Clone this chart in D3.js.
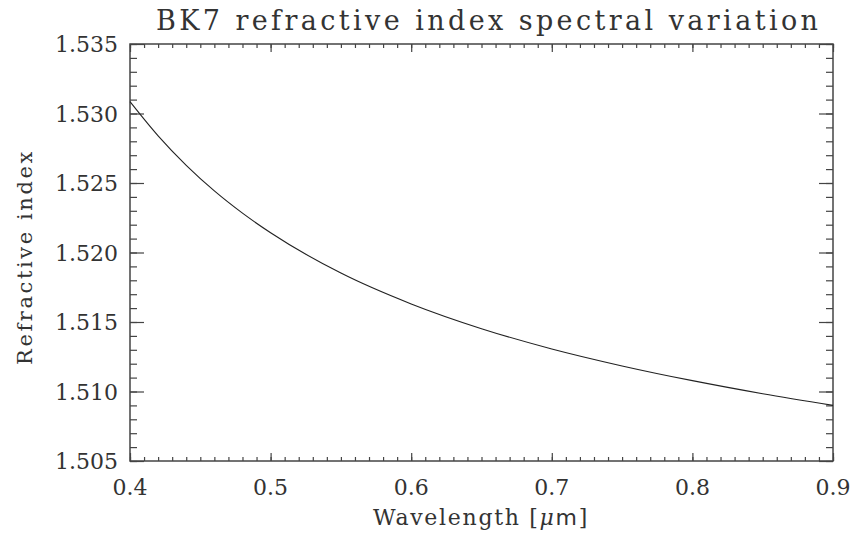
<!DOCTYPE html>
<html>
<head>
<meta charset="utf-8">
<script src="https://cdn.jsdelivr.net/npm/d3@7"></script>
<style>
  html, body { margin: 0; padding: 0; background: #fff; }
  svg { display: block; }
  text { font-family: "DejaVu Serif", serif; fill: #333; }
</style>
</head>
<body>
<svg id="chart" width="855" height="538"></svg>
<script>
// BK7 glass refractive index versus wavelength
const wavelength = [0.40, 0.42, 0.44, 0.46, 0.48, 0.50, 0.55, 0.60, 0.65, 0.70, 0.75, 0.80, 0.85, 0.90];
const refractiveIndex = [1.53085, 1.52839, 1.52627, 1.52443, 1.52283, 1.52142, 1.51852, 1.51630, 1.51452, 1.51306, 1.51184, 1.51078, 1.50984, 1.50900];

const xTicks = [0.4, 0.5, 0.6, 0.7, 0.8, 0.9];
const yTicks = [1.505, 1.510, 1.515, 1.520, 1.525, 1.530, 1.535];

const titleText = "BK7 refractive index spectral variation";
const xTitle = "Wavelength";
const yTitle = "Refractive index";

const svg = d3.select("#chart");
const plotL = 130, plotR = 833, plotT = 44, plotB = 461;

const x = d3.scaleLinear().domain([0.4, 0.9]).range([plotL, plotR]);
const y = d3.scaleLinear().domain([1.505, 1.535]).range([plotB, plotT]);

const axisColor = "#444";
const xMinor = d3.range(0, 51).map(i => 0.4 + i * 0.01);
const yMinor = d3.range(0, 31).map(i => 1.505 + i * 0.001);

// IDL-style ticks pointing inward on all four sides
function styleAxis(g) {
  g.select(".domain").remove();
  g.selectAll("line").attr("stroke", axisColor).attr("stroke-width", 1.2);
  g.selectAll("text").remove();
}

const xMajLen = 8, xMinLen = 4, yMajLen = 14, yMinLen = 7;

svg.append("g").attr("transform", `translate(0,${plotB})`)
  .call(d3.axisTop(x).tickValues(xMinor).tickSize(xMinLen)).call(styleAxis);
svg.append("g").attr("transform", `translate(0,${plotB})`)
  .call(d3.axisTop(x).tickValues(xTicks).tickSize(xMajLen)).call(styleAxis);
svg.append("g").attr("transform", `translate(0,${plotT})`)
  .call(d3.axisBottom(x).tickValues(xMinor).tickSize(xMinLen)).call(styleAxis);
svg.append("g").attr("transform", `translate(0,${plotT})`)
  .call(d3.axisBottom(x).tickValues(xTicks).tickSize(xMajLen)).call(styleAxis);

svg.append("g").attr("transform", `translate(${plotL},0)`)
  .call(d3.axisRight(y).tickValues(yMinor).tickSize(yMinLen)).call(styleAxis);
svg.append("g").attr("transform", `translate(${plotL},0)`)
  .call(d3.axisRight(y).tickValues(yTicks).tickSize(yMajLen)).call(styleAxis);
svg.append("g").attr("transform", `translate(${plotR},0)`)
  .call(d3.axisLeft(y).tickValues(yMinor).tickSize(yMinLen)).call(styleAxis);
svg.append("g").attr("transform", `translate(${plotR},0)`)
  .call(d3.axisLeft(y).tickValues(yTicks).tickSize(yMajLen)).call(styleAxis);

// frame
svg.append("rect")
  .attr("x", plotL).attr("y", plotT)
  .attr("width", plotR - plotL).attr("height", plotB - plotT)
  .attr("fill", "none").attr("stroke", axisColor).attr("stroke-width", 1.5);

// tick labels
svg.append("g").selectAll("text").data(xTicks).join("text")
  .attr("x", d => x(d)).attr("y", plotB + 34)
  .attr("text-anchor", "middle").attr("font-size", 22)
  .text(d => d.toFixed(1));

svg.append("g").selectAll("text").data(yTicks).join("text")
  .attr("x", plotL - 12).attr("y", d => y(d) + 8)
  .attr("text-anchor", "end").attr("font-size", 22)
  .text(d => d.toFixed(3));

// data curve
const line = d3.line()
  .x((d, i) => x(wavelength[i]))
  .y(d => y(d))
  .curve(d3.curveMonotoneX);

svg.append("path")
  .datum(refractiveIndex)
  .attr("d", line)
  .attr("fill", "none")
  .attr("stroke", "#222")
  .attr("stroke-width", 1.1);

// titles
svg.append("text")
  .attr("x", 156).attr("y", 30)
  .attr("font-size", 27)
  .attr("textLength", 662).attr("lengthAdjust", "spacing")
  .text(titleText);

const xt = svg.append("text")
  .attr("x", 481).attr("y", 525)
  .attr("text-anchor", "middle").attr("font-size", 22)
  .attr("letter-spacing", 1.7);
xt.append("tspan").text(xTitle + " [");
xt.append("tspan").attr("font-style", "italic").text("μ");
xt.append("tspan").attr("font-family", "DejaVu Sans").text("m");
xt.append("tspan").text("]");

svg.append("text")
  .attr("transform", `translate(32,${257}) rotate(-90)`)
  .attr("text-anchor", "middle").attr("font-size", 21)
  .attr("letter-spacing", 2.6)
  .text(yTitle);
</script>
</body>
</html>
